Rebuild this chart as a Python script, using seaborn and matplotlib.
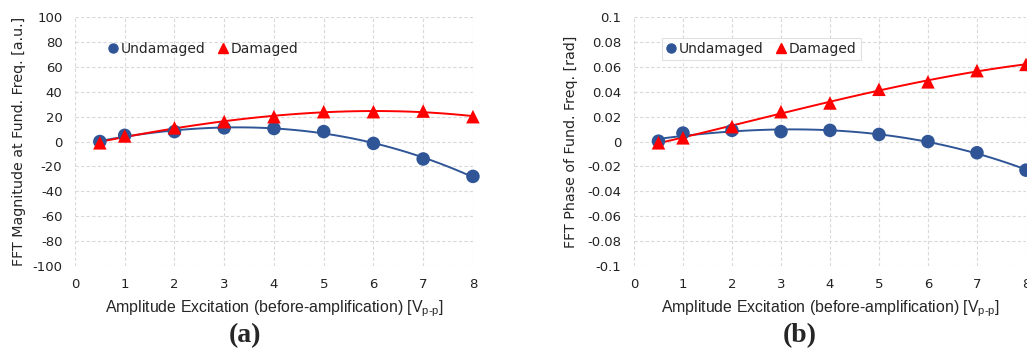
import matplotlib
matplotlib.use('Agg')
import pandas as pd
import matplotlib.pyplot as plt
import seaborn as sns
from matplotlib.lines import Line2D
from matplotlib.ticker import MultipleLocator, FuncFormatter

# Datos
amplitud = [0.5, 1, 2, 3, 4, 5, 6, 7, 8]
mag_sano = [0, 5, 8, 11, 10.5, 8, -1.5, -14, -28]
mag_danado = [-1, 4.5, 11, 16, 20, 24, 24, 24.5, 20]
fase_sano = [0.0003, 0.0068, 0.009, 0.008, 0.009, 0.0057, 0.0, -0.009, -0.023]
fase_danado = [-0.001, 0.003, 0.012, 0.024, 0.031, 0.042, 0.048, 0.057, 0.062]

azul = '#2F5597'
rojo = '#FF0000'

sns.set_style('white')
plt.rcParams['font.family'] = ['DejaVu Sans']
plt.rcParams['axes.unicode_minus'] = False
plt.rcParams['mathtext.fontset'] = 'custom'
plt.rcParams['mathtext.rm'] = 'Liberation Sans'

fig = plt.figure(figsize=(10.27, 3.53), dpi=100)
ax1 = fig.add_axes([0.073, 0.2465, 0.3875, 0.705])
ax2 = fig.add_axes([0.6173, 0.2465, 0.3817, 0.705])

paneles = [
    (ax1, mag_sano, mag_danado, 'FFT Magnitude at Fund. Freq. [a.u.]', 100, 20, -0.123, False),
    (ax2, fase_sano, fase_danado, 'FFT Phase of Fund. Freq. [rad]', 0.1, 0.02, -0.143, True),
]


def formato(v, p):
    return '{:g}'.format(round(v, 6) + 0.0)


for ax, sano, danado, etiqueta, lim, paso, xlab, marco in paneles:
    datos = pd.DataFrame({'Amplitud': amplitud, 'Sano': sano, 'Danado': danado})

    # Lineas de tendencia (polinomio de orden 3)
    sns.regplot(x='Amplitud', y='Sano', data=datos, order=3, ci=None, scatter=False,
                ax=ax, line_kws={'color': azul, 'lw': 1.4, 'zorder': 2})
    sns.regplot(x='Amplitud', y='Danado', data=datos, order=3, ci=None, scatter=False,
                ax=ax, line_kws={'color': rojo, 'lw': 1.4, 'zorder': 2})

    # Puntos
    sns.scatterplot(x='Amplitud', y='Sano', data=datos, ax=ax, color=azul, marker='o',
                    s=95, edgecolor='none', zorder=3, clip_on=False)
    sns.scatterplot(x='Amplitud', y='Danado', data=datos, ax=ax, color=rojo, marker='^',
                    s=95, edgecolor='none', zorder=4, clip_on=False)

    ax.set_xlim(0, 8)
    ax.set_ylim(-lim, lim)
    ax.xaxis.set_major_locator(MultipleLocator(1))
    ax.yaxis.set_major_locator(MultipleLocator(paso))
    ax.yaxis.set_major_formatter(FuncFormatter(formato))
    ax.grid(True, color='#D9D9D9', lw=0.8, ls=(0, (3, 2)))
    for s in ax.spines.values():
        s.set_visible(False)
    ax.tick_params(length=0, labelsize=9.5, colors='#222222', pad=9)

    ax.set_xlabel(r'Amplitude Excitation (before-amplification) [V$_{\mathregular{p\text{-}p}}$]',
                  family=['Liberation Sans', 'DejaVu Sans'], fontsize=11.4, labelpad=5)
    ax.set_ylabel(etiqueta, fontsize=10.3)
    ax.yaxis.set_label_coords(xlab, 0.5)

    manejadores = [
        Line2D([], [], ls='none', marker='o', color=azul, markersize=6.5, label='Undamaged'),
        Line2D([], [], ls='none', marker='^', color=rojo, markersize=6.5, label='Damaged'),
    ]
    leg = ax.legend(handles=manejadores, loc='upper left', bbox_to_anchor=(0.055, 0.945),
                    ncol=2, frameon=marco, fontsize=10, handlelength=0.7, handletextpad=0.2,
                    columnspacing=0.9, borderpad=0.3, fancybox=False)
    if marco:
        leg.get_frame().set_edgecolor('#D9D9D9')
        leg.get_frame().set_linewidth(0.8)

fig.text(0.2386, 0.048, '(a)', family='Liberation Serif', fontweight='bold', fontsize=20,
         ha='center', va='center')
fig.text(0.779, 0.048, '(b)', family='Liberation Serif', fontweight='bold', fontsize=20,
         ha='center', va='center')

plt.savefig('out.png', dpi=100)
